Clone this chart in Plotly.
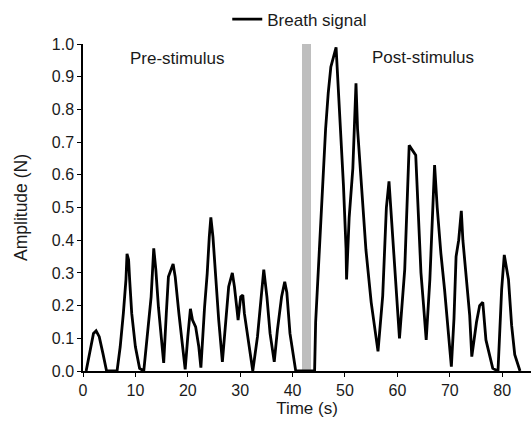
import plotly.graph_objects as go

# Breath signal, sampled at the turning points of the trace
time_s = [
    0.6, 1.5, 2.0, 2.5, 3.1, 3.8, 4.5, 6.5,
    7.1, 7.7, 8.2, 8.4, 8.7, 8.9, 9.3, 10.0, 10.8, 11.6,
    12.3, 13.0, 13.5, 13.9, 14.4, 14.9, 15.4,
    15.9, 16.3, 17.2, 17.6, 18.3, 18.9, 19.5,
    20.0, 20.5, 20.9, 21.5, 22.1, 22.5,
    23.2, 23.7, 24.1, 24.4, 24.8, 25.3, 25.9, 26.6,
    27.2, 27.8, 28.5, 28.9, 29.4, 29.6, 30.1, 30.5, 30.8, 31.5, 32.4,
    33.3, 33.9, 34.5, 35.1, 35.7, 36.5,
    37.1, 37.9, 38.5, 38.9, 39.5, 40.6,
    44.2, 44.4, 44.9, 45.4, 45.9, 46.3, 46.8, 47.3, 48.3,
    48.9, 49.2, 49.7, 50.2, 50.3,
    50.8, 51.5, 51.8, 52.1, 52.4,
    53.1, 54.0, 55.0, 56.3,
    57.2, 57.9, 58.4, 58.8, 59.5, 60.4,
    61.4, 62.25, 63.5, 63.85, 64.2, 64.5, 65.0, 65.5,
    66.2, 66.5, 66.9, 67.1, 67.6, 68.3, 69.0, 69.6, 70.3,
    70.8, 71.2, 71.7, 72.2, 72.5, 73.2, 73.8, 74.2,
    75.1, 75.7, 76.3, 76.9, 77.6, 78.2, 79.2,
    79.9, 80.4, 81.2, 81.8, 82.4, 83.4,
]
amplitude_n = [
    0.0, 0.074, 0.115, 0.123, 0.105, 0.054, 0.0, 0.0,
    0.074, 0.176, 0.28, 0.358, 0.34, 0.28, 0.176, 0.074, 0.008, 0.0,
    0.115, 0.227, 0.375, 0.31, 0.195, 0.115, 0.025,
    0.176, 0.288, 0.327, 0.288, 0.176, 0.084, 0.005,
    0.105, 0.19, 0.156, 0.135, 0.074, 0.01,
    0.195, 0.297, 0.41, 0.47, 0.41, 0.28, 0.156, 0.028,
    0.156, 0.258, 0.30, 0.258, 0.186, 0.156, 0.227, 0.232, 0.176, 0.094, 0.0,
    0.105, 0.207, 0.31, 0.227, 0.115, 0.028,
    0.125, 0.227, 0.273, 0.24, 0.115, 0.0,
    0.0, 0.15, 0.31, 0.46, 0.60, 0.74, 0.85, 0.93, 0.99,
    0.82, 0.72, 0.57, 0.375, 0.28,
    0.47, 0.62, 0.75, 0.88, 0.74,
    0.57, 0.37, 0.21, 0.06,
    0.23, 0.50, 0.58, 0.48, 0.31, 0.10,
    0.31, 0.69, 0.66, 0.54, 0.41, 0.30, 0.20, 0.095,
    0.28, 0.40, 0.55, 0.63, 0.50, 0.36, 0.25, 0.135, 0.013,
    0.16, 0.35, 0.40, 0.49, 0.40, 0.28, 0.17, 0.044,
    0.15, 0.20, 0.21, 0.095, 0.044, 0.008, 0.0,
    0.25, 0.355, 0.28, 0.14, 0.05, 0.0,
]

# Stimulus window (grey band)
stim_start = 41.8
stim_end = 43.5
stim_height = 1.0

x_ticks = [0, 10, 20, 30, 40, 50, 60, 70, 80]
y_ticks = [0.0, 0.1, 0.2, 0.3, 0.4, 0.5, 0.6, 0.7, 0.8, 0.9, 1.0]

font_family = "Liberation Sans, Arial, sans-serif"
text_color = "#1a1a1a"

fig = go.Figure()

fig.add_trace(go.Bar(
    x=[(stim_start + stim_end) / 2],
    y=[stim_height],
    width=[stim_end - stim_start],
    marker=dict(color="rgb(190,190,190)", line=dict(width=0)),
    showlegend=False,
    hoverinfo="skip",
))

fig.add_trace(go.Scatter(
    x=time_s,
    y=amplitude_n,
    mode="lines",
    name="Breath signal",
    line=dict(color="black", width=2.8),
    cliponaxis=False,
))

fig.add_annotation(x=18.0, y=0.955, text="Pre-stimulus", showarrow=False,
                   font=dict(size=17, color=text_color))
fig.add_annotation(x=64.8, y=0.958, text="Post-stimulus", showarrow=False,
                   font=dict(size=17, color=text_color))

fig.update_layout(
    width=531,
    height=426,
    margin=dict(l=83, r=0, t=44, b=55),
    paper_bgcolor="white",
    plot_bgcolor="white",
    font=dict(family=font_family, size=16, color=text_color),
    bargap=0,
    showlegend=True,
    legend=dict(
        orientation="h",
        x=0.322, y=1.075,
        xanchor="left", yanchor="middle",
        font=dict(size=17, color=text_color),
        bgcolor="rgba(0,0,0,0)",
    ),
    xaxis=dict(
        range=[0, 85.5],
        tickvals=x_ticks,
        ticks="outside",
        ticklen=4,
        tickwidth=1.3,
        tickcolor="black",
        tickfont=dict(size=16),
        showline=True,
        linecolor="black",
        linewidth=1.5,
        showgrid=False,
        zeroline=False,
        title=dict(text="Time (s)", font=dict(size=17), standoff=4),
    ),
    yaxis=dict(
        range=[0, 1.0],
        tickvals=y_ticks,
        tickformat=".1f",
        ticks="outside",
        ticklen=4,
        tickwidth=1.3,
        tickcolor="black",
        tickfont=dict(size=16),
        showline=True,
        linecolor="black",
        linewidth=1.5,
        showgrid=False,
        zeroline=False,
        title=dict(text="Amplitude (N)", font=dict(size=17.5), standoff=20),
    ),
)

fig.write_html("out.html")
